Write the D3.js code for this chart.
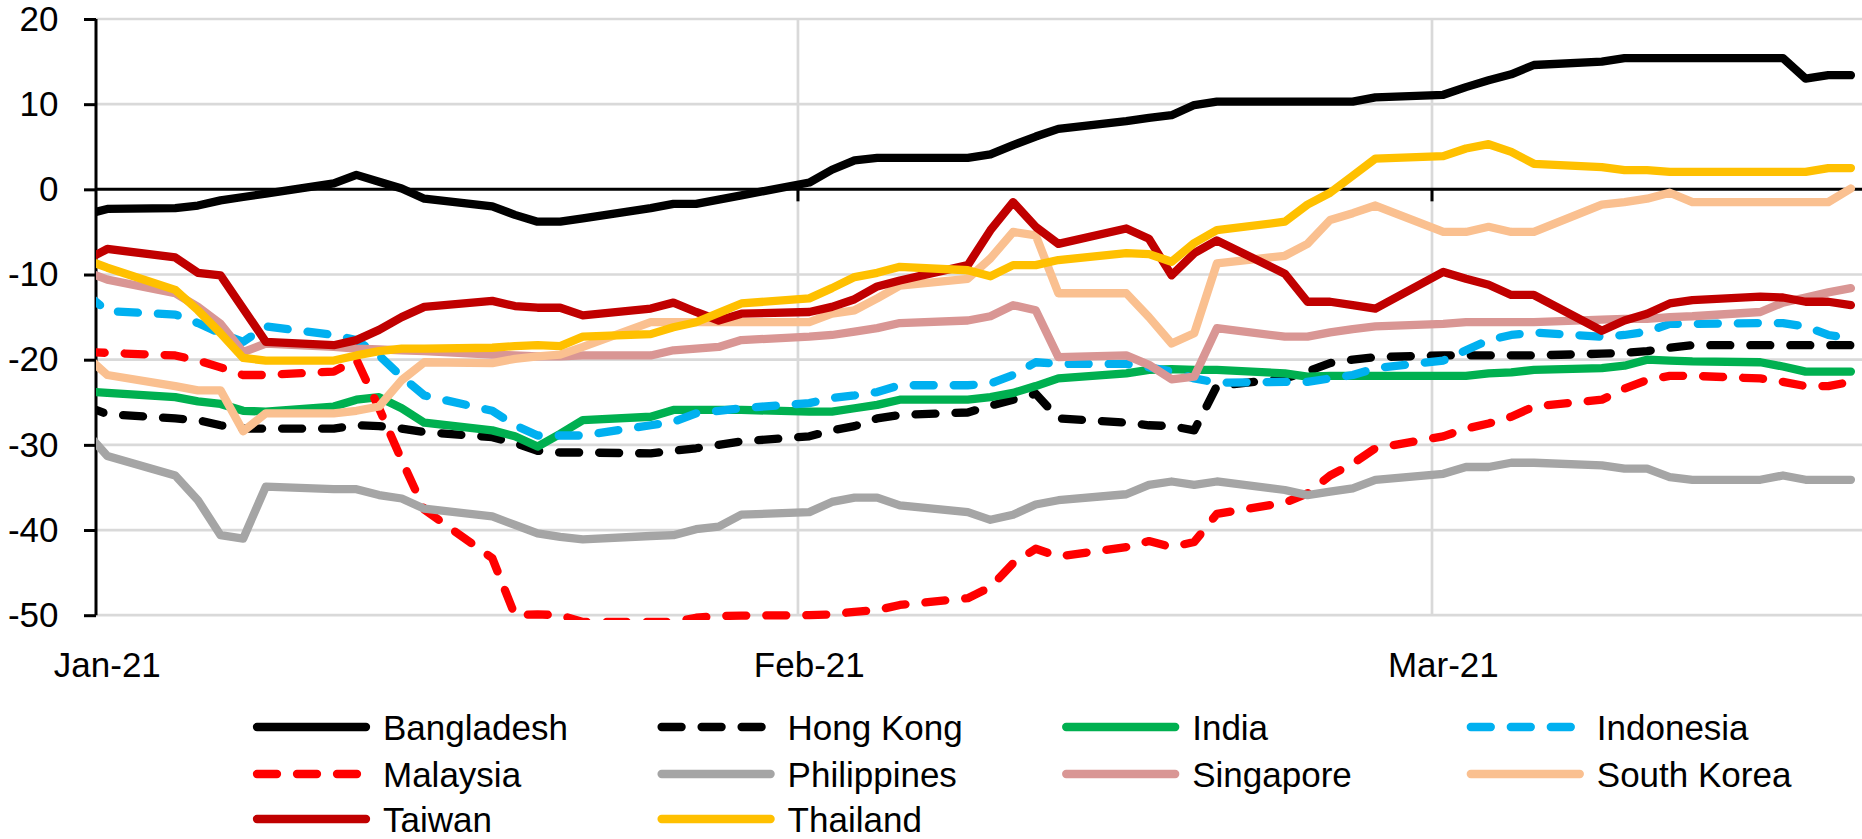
<!DOCTYPE html>
<html>
<head>
<meta charset="utf-8">
<script src="https://cdn.jsdelivr.net/npm/d3@7"></script>
<style>
  html, body { margin: 0; padding: 0; background: #ffffff; }
  svg text { font-family: "Liberation Sans", Arial, sans-serif; fill: #000; }
</style>
</head>
<body>
<svg id="chart" width="1862" height="839"></svg>
<script>
// ---------------- DATA ----------------
const dates = [
  "2020-12-31","2021-01-01",
  "2021-01-04","2021-01-05","2021-01-06","2021-01-07","2021-01-08",
  "2021-01-11","2021-01-12","2021-01-13","2021-01-14","2021-01-15",
  "2021-01-18","2021-01-19","2021-01-20","2021-01-21","2021-01-22",
  "2021-01-25","2021-01-26","2021-01-27","2021-01-28","2021-01-29",
  "2021-02-01","2021-02-02","2021-02-03","2021-02-04","2021-02-05",
  "2021-02-08","2021-02-09","2021-02-10","2021-02-11","2021-02-12",
  "2021-02-15","2021-02-16","2021-02-17","2021-02-18","2021-02-19",
  "2021-02-22","2021-02-23","2021-02-24","2021-02-25","2021-02-26",
  "2021-03-01","2021-03-02","2021-03-03","2021-03-04","2021-03-05",
  "2021-03-08","2021-03-09","2021-03-10","2021-03-11","2021-03-12",
  "2021-03-15","2021-03-16","2021-03-17","2021-03-18","2021-03-19"
];

const bangladesh = [-3.0,-2.3,
  -2.2,-1.9,-1.3,-0.9,-0.5,
  0.7,1.7,0.9,0.1,-1.1,
  -2.0,-3.0,-3.8,-3.8,-3.4,
  -2.2,-1.7,-1.7,-1.2,-0.7,
  0.8,2.3,3.4,3.7,3.7,
  3.7,4.1,5.2,6.2,7.1,
  8.0,8.4,8.7,9.9,10.3,
  10.3,10.3,10.3,10.3,10.8,
  11.1,12.0,12.8,13.5,14.6,
  15.0,15.4,15.4,15.4,15.4,
  15.4,15.4,13.0,13.4,13.4];

const hongKong = [-25.4,-26.4,
  -26.9,-27.1,-27.7,-28.1,-28.1,
  -28.1,-27.7,-27.8,-28.1,-28.5,
  -29.1,-29.8,-30.7,-30.9,-30.9,
  -31.0,-30.7,-30.4,-30.0,-29.6,
  -29.0,-28.3,-27.8,-26.9,-26.5,
  -26.2,-25.4,-24.7,-24.0,-26.9,
  -27.4,-27.7,-27.8,-28.3,-23.1,
  -22.2,-21.4,-20.4,-20.0,-19.7,
  -19.5,-19.5,-19.5,-19.5,-19.5,
  -19.3,-19.2,-19.0,-18.6,-18.3,
  -18.3,-18.3,-18.3,-18.3,-18.3];

const india = [-23.7,-23.9,
  -24.4,-24.9,-25.2,-26.0,-26.1,
  -25.5,-24.7,-24.4,-25.7,-27.4,
  -28.3,-29.0,-30.2,-28.7,-27.1,
  -26.7,-25.9,-25.9,-25.9,-25.9,
  -26.1,-26.1,-25.7,-25.3,-24.7,
  -24.7,-24.4,-23.9,-23.1,-22.2,
  -21.6,-21.2,-21.1,-21.2,-21.2,
  -21.6,-22.0,-21.9,-21.9,-21.9,
  -21.9,-21.9,-21.6,-21.5,-21.2,
  -21.0,-20.7,-20.0,-20.1,-20.2,
  -20.3,-20.8,-21.4,-21.4,-21.4];

const indonesia = [-12.1,-14.3,
  -14.7,-15.7,-16.9,-17.9,-16.1,
  -17.1,-17.7,-19.5,-22.0,-24.2,
  -26.0,-27.7,-28.9,-28.9,-28.9,
  -27.7,-27.3,-26.3,-26.0,-25.7,
  -25.1,-24.5,-24.2,-23.8,-23.0,
  -23.0,-22.8,-21.8,-20.3,-20.5,
  -20.5,-20.9,-21.4,-22.2,-22.7,
  -22.6,-22.6,-22.2,-21.8,-21.0,
  -20.1,-18.9,-17.7,-17.1,-16.8,
  -17.3,-17.1,-16.7,-15.8,-15.8,
  -15.7,-15.7,-16.1,-17.1,-17.5];

const malaysia = [-19.1,-19.2,
  -19.5,-20.1,-20.9,-21.8,-21.8,
  -21.4,-20.0,-25.7,-31.8,-37.6,
  -43.3,-50.0,-49.9,-50.0,-50.8,
  -50.8,-50.8,-50.3,-50.1,-50.05,
  -50.0,-49.9,-49.6,-49.4,-48.8,
  -48.0,-46.7,-43.9,-42.2,-43.1,
  -42.0,-41.3,-42.0,-41.4,-38.1,
  -36.8,-35.7,-33.6,-32.2,-30.4,
  -29.0,-28.1,-27.5,-26.7,-25.5,
  -24.7,-23.4,-22.4,-21.9,-21.9,
  -22.2,-22.6,-23.1,-23.1,-22.6];

const philippines = [-28.3,-31.3,
  -33.6,-36.5,-40.6,-41.0,-34.9,
  -35.2,-35.2,-35.9,-36.3,-37.5,
  -38.4,-39.4,-40.4,-40.8,-41.1,
  -40.7,-40.6,-39.9,-39.6,-38.2,
  -37.9,-36.7,-36.2,-36.2,-37.1,
  -37.9,-38.8,-38.2,-37.0,-36.5,
  -35.8,-34.7,-34.3,-34.7,-34.3,
  -35.3,-35.9,-35.5,-35.1,-34.1,
  -33.4,-32.6,-32.6,-32.1,-32.1,
  -32.4,-32.8,-32.8,-33.8,-34.1,
  -34.1,-33.6,-34.1,-34.1,-34.1];

const singapore = [-9.6,-10.6,
  -12.2,-13.8,-15.8,-19.1,-18.1,
  -18.5,-18.7,-18.8,-18.9,-19.0,
  -19.4,-19.5,-19.6,-19.6,-19.5,
  -19.5,-18.9,-18.7,-18.5,-17.7,
  -17.3,-17.1,-16.7,-16.3,-15.7,
  -15.4,-14.9,-13.6,-14.2,-19.7,
  -19.5,-20.6,-22.3,-22.0,-16.3,
  -17.3,-17.3,-16.8,-16.4,-16.1,
  -15.8,-15.6,-15.6,-15.6,-15.6,
  -15.3,-15.2,-15.2,-15.0,-14.9,
  -14.4,-13.3,-12.7,-12.1,-11.6];

const southKorea = [-19.4,-21.8,
  -23.1,-23.6,-23.6,-28.4,-26.3,
  -26.3,-26.0,-25.5,-22.4,-20.3,
  -20.4,-19.9,-19.6,-19.4,-18.5,
  -15.6,-15.6,-15.6,-15.6,-15.6,
  -15.6,-14.6,-14.2,-12.8,-11.3,
  -10.5,-8.1,-5.0,-5.4,-12.2,
  -12.2,-15.0,-18.1,-16.9,-8.7,
  -7.8,-6.4,-3.6,-2.8,-1.9,
  -5.0,-5.0,-4.4,-5.0,-5.0,
  -1.8,-1.5,-1.1,-0.4,-1.5,
  -1.5,-1.5,-1.5,-1.5,0.1];

const taiwan = [-8.4,-7.0,
  -8.0,-9.8,-10.1,-14.0,-17.9,
  -18.3,-17.7,-16.5,-15.0,-13.8,
  -13.1,-13.7,-13.9,-13.9,-14.8,
  -14.0,-13.3,-14.4,-15.4,-14.6,
  -14.4,-13.8,-12.9,-11.4,-10.7,
  -8.9,-4.8,-1.5,-4.4,-6.4,
  -4.6,-5.8,-10.1,-7.5,-6.0,
  -9.9,-13.2,-13.2,-13.6,-14.0,
  -9.7,-10.5,-11.2,-12.4,-12.4,
  -16.6,-15.4,-14.6,-13.4,-13.0,
  -12.6,-12.7,-13.2,-13.2,-13.6];

const thailand = [-8.2,-9.2,
  -11.8,-14.2,-16.9,-19.8,-20.1,
  -20.1,-19.5,-19.0,-18.7,-18.7,
  -18.6,-18.4,-18.3,-18.4,-17.3,
  -17.0,-16.2,-15.6,-14.5,-13.4,
  -12.8,-11.6,-10.3,-9.8,-9.1,
  -9.5,-10.2,-8.9,-8.9,-8.3,
  -7.5,-7.6,-8.5,-6.3,-4.8,
  -3.8,-1.8,-0.4,1.6,3.6,
  3.9,4.8,5.3,4.4,3.0,
  2.6,2.25,2.25,2.05,2.05,
  2.05,2.05,2.05,2.5,2.5];

const seriesNames = ["Bangladesh","Hong Kong","India","Indonesia","Malaysia",
                     "Philippines","Singapore","South Korea","Taiwan","Thailand"];
const seriesValues = [bangladesh, hongKong, india, indonesia, malaysia,
                      philippines, singapore, southKorea, taiwan, thailand];

const yTicks = [20, 10, 0, -10, -20, -30, -40, -50];
const monthStarts = ["2021-01-01","2021-02-01","2021-03-01"];
const monthLabels = ["Jan-21","Feb-21","Mar-21"];

// ---------------- STYLE ----------------
const seriesStyle = {
  "Bangladesh":  { color: "#000000", dash: null },
  "Hong Kong":   { color: "#000000", dash: "20,20" },
  "India":       { color: "#00B050", dash: null },
  "Indonesia":   { color: "#00B0F0", dash: "20,20" },
  "Malaysia":    { color: "#FF0000", dash: "20,20" },
  "Philippines": { color: "#A5A5A5", dash: null },
  "Singapore":   { color: "#D99694", dash: null },
  "South Korea": { color: "#FAC090", dash: null },
  "Taiwan":      { color: "#C00000", dash: null },
  "Thailand":    { color: "#FFC000", dash: null }
};

const W = 1862, H = 839;
const plotLeft = 96, plotRight = 1862, plotTop = 19, plotBottom = 615.2;
const lineWidth = 8.3;
const fontSize = 35;

const parse = d3.utcParse("%Y-%m-%d");
const noon = d => d3.utcHour.offset(d, 12);

const x = d3.scaleUtc()
  .domain([parse("2021-01-01"), parse("2021-03-01")])
  .range([plotLeft, 1432]);
const y = d3.scaleLinear().domain([-50, 20]).range([plotBottom, plotTop]);

const svg = d3.select("#chart");

// clip
svg.append("defs").append("clipPath").attr("id", "plotClip")
  .append("rect").attr("x", plotLeft).attr("y", 0)
  .attr("width", plotRight - plotLeft).attr("height", 620);

// gridlines (horizontal)
const grid = svg.append("g").attr("class", "grid");
grid.selectAll("line.h").data(yTicks.filter(v => v !== 0)).enter().append("line")
  .attr("class", "h")
  .attr("x1", plotLeft).attr("x2", plotRight)
  .attr("y1", d => y(d)).attr("y2", d => y(d))
  .attr("stroke", "#D9D9D9").attr("stroke-width", 2.7);

// gridlines (vertical at month boundaries)
grid.selectAll("line.v").data(monthStarts.slice(1).map(parse)).enter().append("line")
  .attr("class", "v")
  .attr("x1", d => x(d)).attr("x2", d => x(d))
  .attr("y1", plotTop).attr("y2", plotBottom)
  .attr("stroke", "#D9D9D9").attr("stroke-width", 2.7);

// zero axis line (drawn below series)
svg.append("line")
  .attr("x1", plotLeft).attr("x2", plotRight)
  .attr("y1", y(0)).attr("y2", y(0))
  .attr("stroke", "#000").attr("stroke-width", 3);
svg.selectAll("line.xtick").data(monthStarts.slice(1).map(parse)).enter().append("line")
  .attr("class", "xtick")
  .attr("x1", d => x(d)).attr("x2", d => x(d))
  .attr("y1", y(0)).attr("y2", y(0) + 12)
  .attr("stroke", "#000").attr("stroke-width", 3);

// y axis
const yAxis = d3.axisLeft(y).tickValues(yTicks).tickSize(12).tickPadding(25.5)
  .tickFormat(d3.format("d"));
const gy = svg.append("g").attr("transform", `translate(${plotLeft},0)`).call(yAxis);
gy.select(".domain").attr("stroke", "#000").attr("stroke-width", 3)
  .attr("d", `M0,${plotTop}V${plotBottom}`);
gy.selectAll(".tick line").attr("stroke", "#000").attr("stroke-width", 3);
gy.selectAll(".tick text")
  .style("font-family", '"Liberation Sans", Arial, sans-serif')
  .style("font-size", fontSize + "px").attr("fill", "#000")
  .text(d => d < 0 ? "-" + Math.abs(d) : d);

// x labels
svg.selectAll("text.xlab").data(monthStarts).enter().append("text")
  .attr("class", "xlab")
  .attr("x", (d) => x(noon(parse(d))))
  .attr("y", 677)
  .attr("text-anchor", "middle")
  .style("font-size", fontSize + "px")
  .text((d, i) => monthLabels[i]);

// series
const parsedDates = dates.map(parse);
const line = d3.line()
  .x(d => x(noon(d.date)))
  .y(d => y(d.value));

const seriesG = svg.append("g").attr("clip-path", "url(#plotClip)");
seriesNames.forEach((name, i) => {
  const pts = parsedDates.map((dt, j) => ({ date: dt, value: seriesValues[i][j] }));
  const st = seriesStyle[name];
  seriesG.append("path")
    .datum(pts)
    .attr("d", line)
    .attr("fill", "none")
    .attr("stroke", st.color)
    .attr("stroke-width", lineWidth)
    .attr("stroke-linejoin", "round")
    .attr("stroke-linecap", "round")
    .attr("stroke-dasharray", st.dash);
});

// legend
const legendX0 = 257, legendColW = 404.6, legendLineLen = 109, legendTextDx = 126;
const legendRowsY = [727, 774, 819];
const legend = svg.append("g");
seriesNames.forEach((name, i) => {
  const col = i % 4, row = Math.floor(i / 4);
  const lx = legendX0 + col * legendColW, ly = legendRowsY[row];
  const st = seriesStyle[name];
  legend.append("line")
    .attr("x1", lx).attr("x2", lx + legendLineLen)
    .attr("y1", ly).attr("y2", ly)
    .attr("stroke", st.color).attr("stroke-width", lineWidth)
    .attr("stroke-linecap", "round")
    .attr("stroke-dasharray", st.dash);
  legend.append("text")
    .attr("x", lx + legendTextDx).attr("y", ly + 12.5)
    .style("font-size", fontSize + "px")
    .text(name);
});
</script>
</body>
</html>
